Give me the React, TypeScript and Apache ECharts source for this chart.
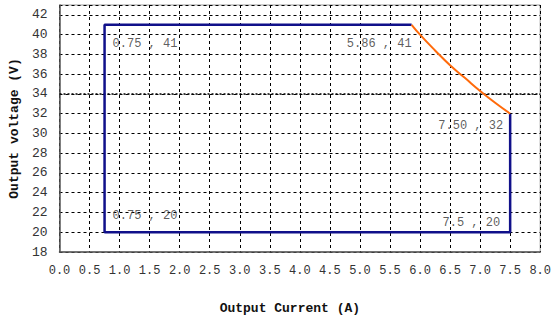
import React, { useEffect, useRef } from "react";
import * as echarts from "echarts";

// Operating envelope: rectangular limits in blue, constant-power edge in orange
const boundary: [number, number][] = [
  [5.86, 41],
  [0.75, 41],
  [0.75, 20],
  [7.5, 20],
  [7.5, 32],
];
const powerCurve: [number, number][] = [
  [5.86, 41],
  [6.0, 40.0],
  [6.25, 38.4],
  [6.5, 36.9],
  [6.75, 35.6],
  [7.0, 34.3],
  [7.25, 33.1],
  [7.5, 32],
];
const cornerText = ["0.75 , 41", "5.86 , 41", "7.50 , 32", "0.75 , 20", "7.5 , 20"];
const cornerPoints: [number, number][] = [
  [0.75, 41],
  [5.86, 41],
  [7.5, 32],
  [0.75, 20],
  [7.5, 20],
];
const refVoltage = 34;

const labelFont = "'Liberation Mono', 'DejaVu Sans Mono', monospace";

export default function App() {
  const ref = useRef<HTMLDivElement>(null);
  useEffect(() => {
    if (!ref.current) return;
    const chart = echarts.init(ref.current, undefined, { renderer: "svg" });
    const offsets: { off: [number, number]; align: string }[] = [
      { off: [8, 19], align: "left" },
      { off: [0, 19], align: "right" },
      { off: [-7, 12], align: "right" },
      { off: [8, -16], align: "left" },
      { off: [-10, -9], align: "right" },
    ];
    chart.setOption({
      animation: false,
      backgroundColor: "#fff",
      grid: {
        left: 54,
        right: 11,
        top: 5,
        bottom: 66,
        show: true,
        borderColor: "#999",
        borderWidth: 1,
      },
      xAxis: {
        type: "value",
        min: 0,
        max: 8,
        interval: 0.5,
        name: "Output Current (A)",
        nameLocation: "middle",
        nameGap: 50,
        nameTextStyle: {
          fontFamily: labelFont,
          fontWeight: "bold",
          fontSize: 13,
          color: "#111",
          padding: [0, 20, 0, 0],
        },
        axisLine: { show: true, lineStyle: { color: "#555", width: 1.5 } },
        axisTick: { show: false },
        axisLabel: {
          fontFamily: labelFont,
          fontSize: 12,
          color: "#333",
          margin: 13,
          formatter: (v: number) => v.toFixed(1),
        },
        splitLine: { show: true, lineStyle: { color: "#000", type: [3, 3], width: 1 } },
      },
      yAxis: {
        type: "value",
        min: 18,
        max: 43,
        interval: 2,
        name: "Output voltage (V)",
        nameLocation: "middle",
        nameGap: 36,
        nameTextStyle: {
          fontFamily: labelFont,
          fontWeight: "bold",
          fontSize: 13,
          color: "#111",
        },
        axisLine: { show: true, lineStyle: { color: "#555", width: 1.5 } },
        axisTick: { show: false },
        axisLabel: {
          fontFamily: labelFont,
          fontSize: 13,
          color: "#333",
          margin: 12,
          showMaxLabel: false,
          formatter: (v: number) => (v > 42 ? "" : String(v)),
        },
        splitLine: { show: true, lineStyle: { color: "#000", type: [3, 3], width: 1 } },
      },
      series: [
        {
          type: "line",
          data: [
            [0, refVoltage],
            [8, refVoltage],
          ],
          symbol: "none",
          lineStyle: { color: "#000", width: 1.5, type: [2, 2] },
          z: 1,
        },
        {
          type: "line",
          data: boundary,
          symbol: "none",
          lineStyle: { color: "#10108a", width: 2.5 },
          z: 3,
        },
        {
          type: "line",
          data: powerCurve,
          symbol: "none",
          smooth: true,
          lineStyle: { color: "#ff6a0a", width: 2 },
          z: 4,
        },
        {
          type: "scatter",
          symbolSize: 0,
          data: cornerPoints.map((p, i) => ({
            value: p,
            label: {
              show: true,
              formatter: cornerText[i],
              position: "inside",
              offset: offsets[i].off,
              align: offsets[i].align,
              verticalAlign: "middle",
              fontFamily: labelFont,
              fontSize: 12,
              color: "#333",
            },
          })),
          z: 5,
        },
      ],
    });
    return () => chart.dispose();
  }, []);
  return (
    <div
      ref={ref}
      style={{ position: "fixed", left: 0, top: 0, width: 554, height: 320 }}
    />
  );
}
